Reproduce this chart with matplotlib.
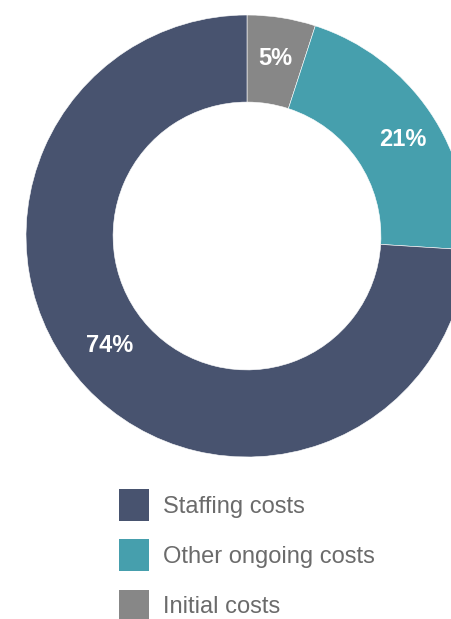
import matplotlib
matplotlib.use('Agg')
import matplotlib.pyplot as plt
import numpy as np

# cost breakdown, clockwise from the top
labels = ['Initial costs', 'Other ongoing costs', 'Staffing costs']
shares = [5, 21, 74]
colors = ['#878787', '#469fad', '#48536f']
legend_order = ['Staffing costs', 'Other ongoing costs', 'Initial costs']

plt.rcParams['font.family'] = ['Liberation Sans', 'DejaVu Sans']

fig = plt.figure(figsize=(4.52, 6.19), dpi=100)

# donut centre at (247, 236) px, radius 221 px; right side runs off the figure
cx, cy, r = 247, 236, 221
W, H = 452, 619
ax = fig.add_axes([(cx - r) / W, (H - cy - r) / H, 2 * r / W, 2 * r / H])

wedges, texts, autotexts = ax.pie(
    shares, colors=colors, startangle=90, counterclock=False,
    radius=1.0, pctdistance=0.82,
    autopct=lambda p: f'{p:.0f}%',
    wedgeprops=dict(width=0.394, edgecolor='white', linewidth=0.4),
    textprops=dict(color='white', fontsize=17, fontweight='bold'))

# label angles sit a little off the wedge middles in the original
for t, w, shift, dist in zip(autotexts, wedges, [0, -2.5, -4.5], [0.815, 0.83, 0.795]):
    ang = np.deg2rad((w.theta1 + w.theta2) / 2 + shift)
    t.set_position((dist * np.cos(ang), dist * np.sin(ang)))

ax.set_xlim(-1, 1)
ax.set_ylim(-1, 1)
ax.set_aspect('equal')
ax.axis('off')

handles = {lab: w for lab, w in zip(labels, wedges)}
leg = fig.legend([handles[l] for l in legend_order], legend_order,
                 loc='upper left', bbox_to_anchor=(119 / W, 1 - 489 / H),
                 frameon=False, fontsize=17, borderpad=0, borderaxespad=0,
                 handlelength=1.28, handleheight=1.7, labelspacing=0.78,
                 handletextpad=0.6)
for t in leg.get_texts():
    t.set_color('#6b6b6b')
for h in leg.legend_handles:
    h.set_edgecolor('none')

fig.savefig('out.png', dpi=100)
